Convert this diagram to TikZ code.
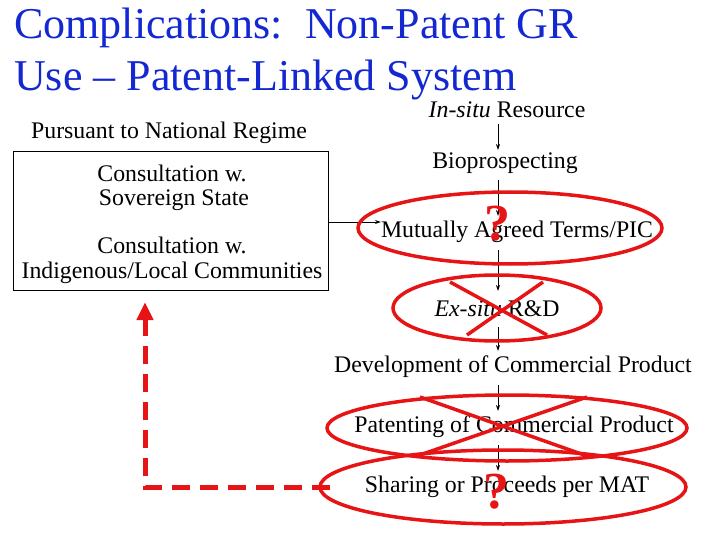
\documentclass[tikz,border=0pt]{standalone}
\usepackage{fontspec}
\setmainfont{Liberation Serif}
\usetikzlibrary{arrows.meta}
\definecolor{tblue}{RGB}{20,40,210}
\definecolor{xred}{RGB}{230,20,20}
\begin{document}
\begin{tikzpicture}[x=1pt,y=-1pt,
  lbl/.style={font=\fontsize{23.8}{26}\selectfont,inner sep=0pt},
  ttl/.style={font=\fontsize{44}{48}\selectfont,text=tblue,inner sep=0pt,anchor=west},
  flow/.style={-{Stealth[length=6pt,width=4pt]},line width=0.8pt},
  ring/.style={draw=xred,line width=3.5pt},
  qm/.style={text=xred,font=\fontsize{52}{54}\selectfont\bfseries,inner sep=0pt}]
\useasboundingbox (0,0) rectangle (720,540);
\node[ttl] (t1) at (14,28) {Complications:\ \ Non-Patent GR};
\node[ttl] (t2) at (14,80) {Use -- Patent-Linked System};
\node[lbl] (ins) at (507,110) {\textit{In-situ} Resource};
\node[lbl] (bio) at (505,163) {Bioprospecting};
\node[lbl] (mat) at (517,232) {Mutually Agreed Terms/PIC};
\node[lbl] (exs) at (497,309) {\textit{Ex-situ} R\&D};
\node[lbl] (dev) at (513,367) {Development of Commercial Product};
\node[lbl] (pat) at (514,427) {Patenting of Commercial Product};
\node[lbl] (sha) at (507,487) {Sharing or Proceeds per MAT};
\coordinate (a0) at (498,124); \coordinate (a1) at (498,150);
\coordinate (b0) at (498,180); \coordinate (b1) at (498,216);
\coordinate (c0) at (498,250); \coordinate (c1) at (498,291);
\coordinate (d0) at (498,327); \coordinate (d1) at (498,351);
\coordinate (e0) at (498,385); \coordinate (e1) at (498,411);
\coordinate (f0) at (498,445); \coordinate (f1) at (498,471);
\draw[flow] (a0) -- (a1);
\draw[flow] (b0) -- (b1);
\draw[flow] (c0) -- (c1);
\draw[flow] (d0) -- (d1);
\draw[flow] (e0) -- (e1);
\draw[flow] (f0) -- (f1);
\node[lbl] (pur) at (169,133) {Pursuant to National Regime};
\node[draw,line width=1pt,minimum width=315pt,minimum height=138pt,inner sep=0pt] (box) at (170.5,221) {};
\node[lbl] (c1a) at (172,173) {Consultation w.};
\node[lbl] (c1b) at (174,200) {Sovereign State};
\node[lbl] (c2a) at (172,245) {Consultation w.};
\node[lbl] (c2b) at (172,273) {Indigenous/Local Communities};
\draw[flow] (box.east |- 0,222) -- (mat.west |- 0,222);
\draw[ring] (510,228) ellipse [x radius=152,y radius=36];
\draw[ring] (497,308) ellipse [x radius=104,y radius=33];
\draw[ring] (450,282) -- (547,335);
\draw[ring] (543,282) -- (467,335);
\draw[ring] (507,428) ellipse [x radius=180,y radius=33];
\draw[ring] (420,397) -- (587,456);
\draw[ring] (587,397) -- (417,456);
\draw[ring] (503,487) ellipse [x radius=183,y radius=37];
\node[qm] (q1) at (497,224) {?};
\node[qm] (q2) at (496,492) {?};
\coordinate (r0) at (330,487);
\coordinate (r1) at (145,487);
\coordinate (r2) at (145,302);
\draw[xred,line width=5pt,dash pattern=on 18pt off 10pt,-{Triangle[length=18pt,width=16pt]}] (r0) -- (r1) -- (r2);
\end{tikzpicture}
\end{document}
